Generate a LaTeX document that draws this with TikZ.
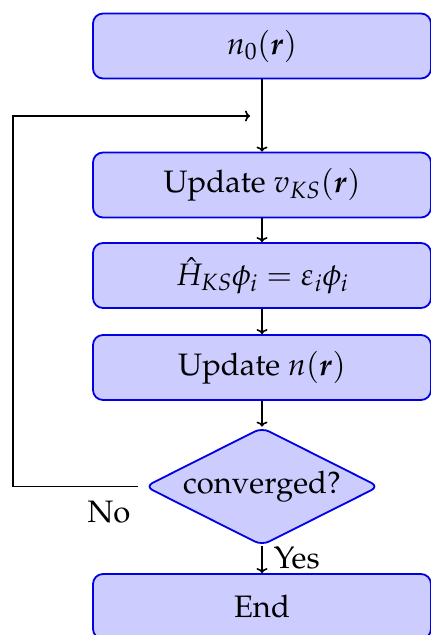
\documentclass[tikz,border=0pt]{standalone}
\usepackage{amsmath}
\usepackage[T1]{fontenc}
\usepackage{mathpazo}
\usetikzlibrary{shapes.geometric,arrows.meta}
\begin{document}
\begin{tikzpicture}[x=1pt,y=-1pt,
  every node/.style={font=\fontsize{31}{36}\selectfont},
  box/.style={draw=blue!90!black, fill=blue!20, line width=1.8pt, rounded corners=10pt,
    minimum width=338pt, minimum height=65pt, inner sep=0pt},
  dec/.style={draw=blue!90!black, fill=blue!20, line width=1.8pt, rounded corners=8pt,
    shape=diamond, aspect=2, minimum width=234pt, minimum height=118pt, inner sep=0pt},
  conn/.style={-{To[length=5pt,width=11pt]}, line width=1.6pt, black}]
\useasboundingbox (0,0) rectangle (431,635);
\node[box] (n0) at (262,46) {$n_0(\boldsymbol r)$};
\node[box] (vks) at (262,185) {Update $v_{KS}(\boldsymbol r)$};
\node[box] (hks) at (262,275.5) {$\hat H_{KS}\phi_i=\varepsilon_i\phi_i$};
\node[box] (upn) at (262,367.5) {Update $n(\boldsymbol r)$};
\node[dec] (conv) at (262,486.5) {converged?};
\node[box] (end) at (262,606.5) {End};
\coordinate (lc) at (13,486.5);
\coordinate (fb) at (250,116);
\draw[conn] (n0) -- (vks);
\draw[conn] (vks) -- (hks);
\draw[conn] (hks) -- (upn);
\draw[conn] (upn) -- (conv);
\draw[conn] (conv) -- node[right, inner sep=0pt, xshift=11pt, yshift=2pt] (yes) {Yes} (end);
\draw[conn] ([xshift=-6pt]conv.west) -- (lc) |- (fb);
\node (no) at (109,512) {No};
\end{tikzpicture}
\end{document}
